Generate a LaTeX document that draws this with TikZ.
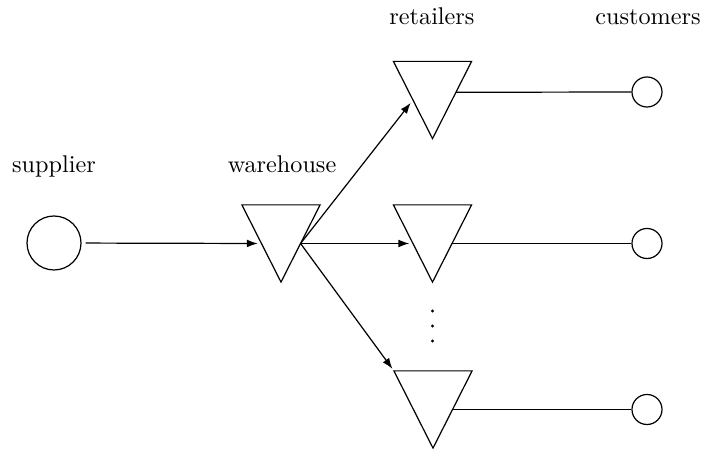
\documentclass[tikz,border=0pt]{standalone}
\usetikzlibrary{calc,arrows.meta}
\begin{document}
\begin{tikzpicture}[x=0.413pt,y=-0.413pt,line width=0.5pt,
  store/.style={rectangle,inner sep=0pt,minimum width=31.8pt,minimum height=31.4pt},
  bigsite/.style={circle,draw,inner sep=0pt,minimum size=22.3pt},
  client/.style={circle,draw,inner sep=0pt,minimum size=12.4pt},
  flow/.style={-{Latex[length=4.5pt,width=3.2pt]}},
  tag/.style={anchor=base,inner sep=0pt}]
\useasboundingbox (0,0) rectangle (708,450);

% sites
\node[bigsite] (s) at (54,243) {};
\node[store] (w)  at (281,243.5) {};
\node[store] (r1) at (432.5,100) {};
\node[store] (r2) at (432.5,243.5) {};
\node[store] (r3) at (433,409.5) {};
\node[client] (c1) at (647,92) {};
\node[client] (c2) at (647,243.5) {};
\node[client] (c3) at (647,409.5) {};

% inventory triangles
\foreach \n in {w,r1,r2,r3}
  \draw (\n.north west) -- (\n.north east) -- (\n.south) -- cycle;

% edge points on the triangles
\coordinate (win)  at ($(w.north west)!0.5!(w.south)$);
\coordinate (wout) at ($(w.north east)!0.5!(w.south)$);
\coordinate (r1in) at ($(r1.north west)!0.5!(r1.south)$);
\coordinate (r2in) at ($(r2.north west)!0.5!(r2.south)$);
\coordinate (r1out) at ($(r1.north east)!0.4!(r1.south)$);
\coordinate (r2out) at ($(r2.north east)!0.5!(r2.south)$);
\coordinate (r3out) at ($(r3.north east)!0.5!(r3.south)$);

% shipments
\draw[flow,shorten <=1.7pt,shorten >=1.5pt] (s) -- (win);
\draw[flow,shorten >=1.5pt] (wout) -- (r1in);
\draw[flow,shorten >=1.5pt] (wout) -- (r2in);
\draw[flow,shorten >=1pt] (wout) -- (r3.north west);

% demand links
\draw (r1out) -- (c1);
\draw (r2out) -- (c2);
\draw (r3out) -- (c3);

% vertical ellipsis between retailers
\foreach \yy in {311,326,341}
  \fill (432.5,\yy) circle[radius=0.7pt];

% labels
\node[tag] at (54,173) {supplier};
\node[tag] at (282,173) {warehouse};
\node[tag] at (432,25) {retailers};
\node[tag] at (648,25) {customers};
\end{tikzpicture}
\end{document}
